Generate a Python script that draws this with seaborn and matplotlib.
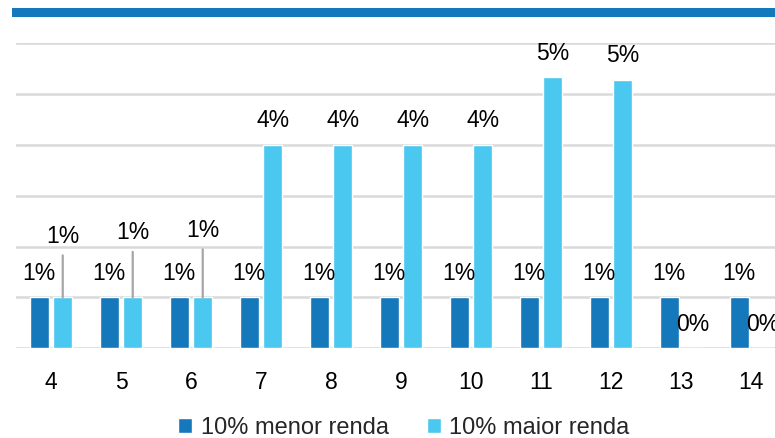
import matplotlib
matplotlib.use("Agg")
import matplotlib.pyplot as plt
from matplotlib.patches import Rectangle
import seaborn as sns
import pandas as pd

categorias = ["4", "5", "6", "7", "8", "9", "10", "11", "12", "13", "14"]
menor_renda = [1, 1, 1, 1, 1, 1, 1, 1, 1, 1, 1]
maior_renda = [1, 1, 1, 4, 4, 4, 4, 5.33, 5.28, 0, 0]
rotulos_menor = ["1%"] * 11
rotulos_maior = ["1%", "1%", "1%", "4%", "4%", "4%", "4%", "5%", "5%", "0%", "0%"]
series = ["10% menor renda", "10% maior renda"]

DARK = "#1478BA"
LIGHT = "#4AC8F0"
FS = 16.5

df = pd.DataFrame({
    "cat": categorias * 2,
    "val": menor_renda + maior_renda,
    "grupo": [series[0]] * len(categorias) + [series[1]] * len(categorias),
})

sns.set_theme(style="white")
plt.rcParams["font.family"] = ["Liberation Sans", "DejaVu Sans"]

W, H = 775, 438
fig = plt.figure(figsize=(W / 100, H / 100), dpi=100)
y0, y6 = 348.3, 42.9
ax = fig.add_axes([16 / W, 1 - y0 / H, (W - 16) / W, (y0 - y6) / H])

sns.barplot(data=df, x="cat", y="val", hue="grupo", order=categorias,
            hue_order=series, palette=[DARK, LIGHT], width=0.67, gap=0.21,
            saturation=1, ax=ax, legend=True)

ax.set_ylim(0, 6)
ax.set_xlim(-0.5, (W - 51) / 70)
ax.set_yticks(range(0, 7))
ax.yaxis.grid(True, color="#D9D9D9", lw=1.8)
ax.set_axisbelow(True)
for s in ax.spines.values():
    s.set_visible(False)
ax.set_yticklabels([])
ax.tick_params(axis="y", length=0)
ax.tick_params(axis="x", length=0, labelsize=FS, pad=16, colors="#000000")
ax.set_xlabel("")
ax.set_ylabel("")

off = 0.1675
px = 0.72  # points per pixel at dpi 100
leader = {0: 61, 1: 64.5, 2: 67}
for i, c in enumerate(categorias):
    ax.annotate(rotulos_menor[i], xy=(i - off, menor_renda[i]), xytext=(0, 24 * px),
                textcoords="offset points", ha="center", va="center",
                fontsize=FS, color="#000000", annotation_clip=False)
    if i in leader:
        ax.annotate(rotulos_maior[i], xy=(i + off, maior_renda[i]),
                    xytext=(0, leader[i] * px), textcoords="offset points",
                    ha="center", va="center", fontsize=FS, color="#000000",
                    arrowprops=dict(arrowstyle="-", color="#A6A6A6", lw=1.6,
                                    shrinkA=3, shrinkB=0),
                    annotation_clip=False)
    else:
        ax.annotate(rotulos_maior[i], xy=(i + off, maior_renda[i]), xytext=(0, 24 * px),
                    textcoords="offset points", ha="center", va="center",
                    fontsize=FS, color="#000000", annotation_clip=False)

handles, labels = ax.get_legend_handles_labels()
ax.get_legend().remove()
fig.legend(handles, labels, loc="center", bbox_to_anchor=(0.521, 1 - 428 / H),
           ncol=2, frameon=False, fontsize=17, handlelength=0.6,
           handleheight=0.6, handletextpad=0.35, columnspacing=1.6,
           borderaxespad=0, borderpad=0)

fig.patches.append(Rectangle((12 / W, 1 - 16.5 / H), 1 - 12 / W, 8.5 / H,
                             transform=fig.transFigure, facecolor="#1379BC",
                             edgecolor="none", zorder=5))

fig.savefig("out.png", dpi=100)
